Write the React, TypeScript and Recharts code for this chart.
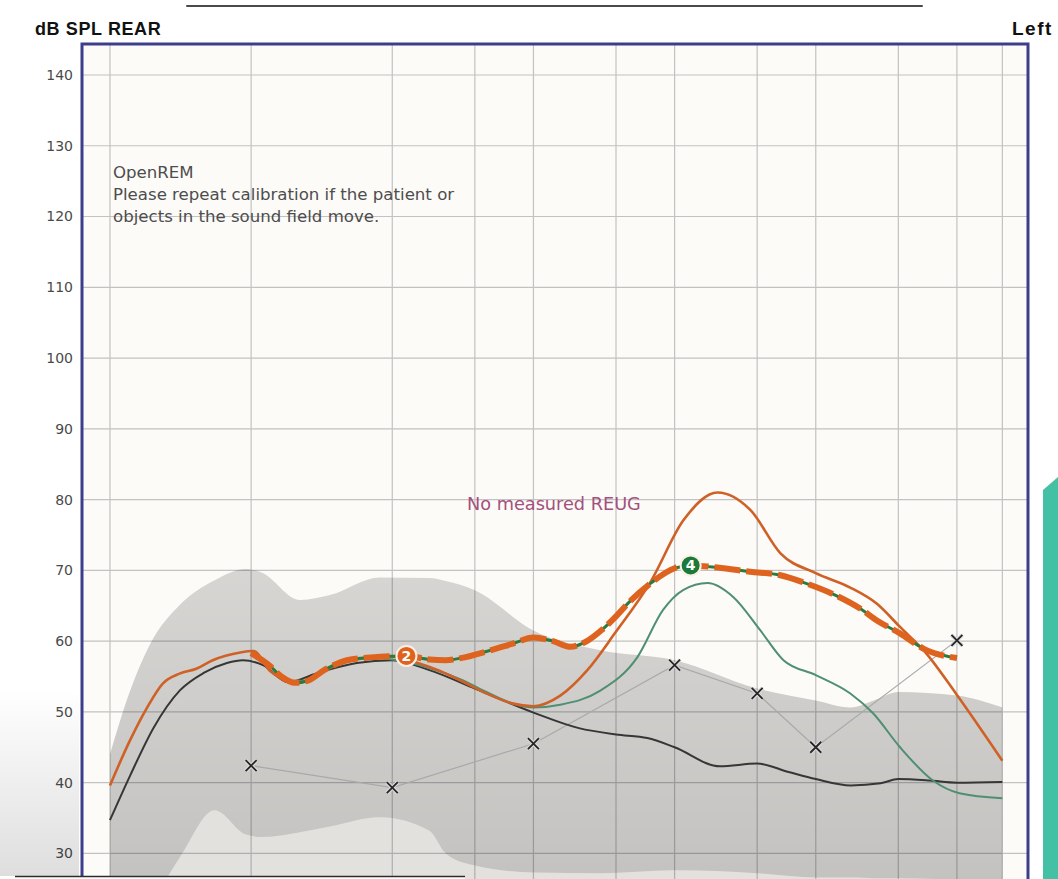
import React from "react";
import {
  ComposedChart,
  Area,
  Line,
  XAxis,
  YAxis,
  CartesianGrid,
  ReferenceArea,
} from "recharts";

// ---------- data (frequency in Hz, level in dB SPL) ----------
const gridFreqs = [125, 250, 500, 750, 1000, 1500, 2000, 3000, 4000, 6000, 8000, 10000];
const yTicks = [30, 40, 50, 60, 70, 80, 90, 100, 110, 120, 130, 140];

const bandFreq = [125, 138, 152, 176, 209, 243, 263, 318, 368, 470, 600, 650, 750, 1000, 1389, 2000, 3000, 4000, 4748, 5318, 6000, 8000, 10000];
const bandHigh = [44.0, 53.0, 59.5, 65.1, 68.6, 70.2, 69.7, 65.8, 66.5, 69.0, 68.9, 68.5, 67.2, 61.5, 58.7, 57.3, 53.3, 51.6, 50.6, 51.6, 52.8, 52.3, 50.6];
const bandLow = [18, 19, 22.6, 29.4, 36.1, 32.7, 32.3, 33.0, 33.8, 35.1, 33.2, 30.0, 28.3, 27.3, 27.2, 27.6, 27.2, 26.6, 26.6, 26.5, 26.5, 26.3, 26.2];
const floorLevel = 0;

const blackFreq = [125, 138, 155, 176, 198, 222, 240, 265, 300, 350, 420, 500, 600, 750, 1000, 1250, 1500, 1750, 2000, 2500, 3000, 3500, 4000, 4750, 5500, 6000, 7000, 8000, 10000];
const blackVal = [34.7, 41.0, 47.8, 53.0, 55.5, 56.9, 57.3, 56.6, 54.2, 55.6, 56.9, 57.3, 55.9, 53.3, 49.9, 47.7, 46.8, 46.3, 45.0, 42.3, 42.7, 41.5, 40.5, 39.6, 39.9, 40.5, 40.3, 40.0, 40.1];

const orangeFreq = [125, 138, 150, 162, 176, 191, 207, 237, 253, 274, 288, 302, 320, 350, 380, 420, 470, 500, 560, 630, 700, 800, 900, 1000, 1141, 1303, 1495, 1775, 2090, 2470, 2904, 3364, 4000, 4726, 5394, 6050, 6874, 7960, 10000];
const orangeVal = [39.6, 46.0, 50.6, 54.0, 55.4, 56.1, 57.3, 58.4, 58.6, 55.8, 54.8, 54.2, 54.2, 55.4, 56.6, 57.4, 57.8, 57.8, 57.0, 55.8, 54.4, 52.5, 51.2, 50.8, 52.3, 55.9, 61.2, 68.3, 77.1, 81.0, 78.5, 72.4, 69.6, 67.6, 65.3, 62.0, 58.3, 52.6, 43.1];

const greenFreq = [250, 274, 300, 330, 360, 400, 450, 500, 600, 700, 800, 900, 1000, 1141, 1389, 1665, 1890, 2085, 2352, 2670, 3048, 3414, 4000, 4740, 5300, 6050, 7111, 8100, 10000];
const greenVal = [58.3, 56.5, 54.4, 54.4, 56.0, 57.2, 57.6, 57.4, 56.2, 54.6, 52.7, 51.2, 50.6, 51.0, 53.0, 57.7, 64.4, 67.2, 68.2, 66.2, 61.5, 57.3, 55.2, 52.6, 49.8, 45.0, 40.3, 38.5, 37.8];

const targetFreq = [250, 274, 290, 310, 330, 360, 400, 450, 536, 600, 650, 700, 800, 900, 1000, 1100, 1200, 1300, 1400, 1500, 1600, 1780, 2000, 2164, 2470, 2900, 3364, 3760, 4400, 5000, 5400, 6050, 6800, 8000];
const targetVal = [58.3, 56.5, 55.0, 54.1, 54.4, 56.0, 57.3, 57.7, 57.9, 57.4, 57.3, 57.6, 58.6, 59.6, 60.5, 60.0, 59.2, 60.0, 61.6, 63.5, 65.5, 68.2, 70.3, 70.7, 70.4, 69.8, 69.3, 68.3, 66.5, 64.5, 62.9, 61.1, 58.9, 57.6];
const markFreq = [536, 2164];
const markLabel = ["2", "4"];

const xFreq = [250, 500, 1000, 2000, 3000, 4000, 8000];
const xVal = [42.4, 39.3, 45.5, 56.6, 52.6, 45.0, 60.1];

// ---------- derived tables ----------
const bandData = bandFreq.map((f, i) => ({
  f,
  band: [bandLow[i], bandHigh[i]],
  under: [floorLevel, bandLow[i]],
}));
const toSeries = (fs: number[], vs: number[]) => fs.map((f, i) => ({ f, v: vs[i] }));
const blackData = toSeries(blackFreq, blackVal);
const orangeData = toSeries(orangeFreq, orangeVal);
const greenData = toSeries(greenFreq, greenVal);
const targetData = targetFreq.map((f, i) => {
  const k = markFreq.indexOf(f);
  return { f, v: targetVal[i], mark: k >= 0 ? markLabel[k] : null };
});
const xData = toSeries(xFreq, xVal);

const X_DOMAIN: [number, number] = [108.96, 11342];
const Y_DOMAIN: [number, number] = [22, 144.38];

const markColors: Record<string, string> = { "2": "#e0621c", "4": "#1c7a38" };

const XDot = (p: any) => {
  const { cx, cy, index } = p;
  if (cx == null || cy == null) return <g key={`xd-${index}`} />;
  const s = 5.5;
  const d = `M${cx - s},${cy - s}L${cx + s},${cy + s}M${cx + s},${cy - s}L${cx - s},${cy + s}`;
  return (
    <g key={`xd-${index}`}>
      <path d={d} stroke="#dcdcdc" strokeWidth={4} />
      <path d={d} stroke="#262626" strokeWidth={1.8} />
    </g>
  );
};

const MarkDot = (p: any) => {
  const { cx, cy, index, payload } = p;
  if (!payload || !payload.mark || cx == null) return <g key={`md-${index}`} />;
  const c = markColors[payload.mark] || "#e0621c";
  return (
    <g key={`md-${index}`}>
      <circle cx={cx} cy={cy} r={10} fill={c} stroke="#fbefe6" strokeWidth={2} />
      <text
        x={cx}
        y={cy}
        dy="0.36em"
        textAnchor="middle"
        fill="#ffffff"
        fontFamily="DejaVu Sans, sans-serif"
        fontWeight="bold"
        fontSize={14}
      >
        {payload.mark}
      </text>
    </g>
  );
};

const EmptyTick = () => <g />;

export default function App() {
  return (
    <div
      style={{
        position: "absolute",
        left: 0,
        top: 0,
        width: 1058,
        height: 879,
        overflow: "hidden",
        background: "#ffffff",
      }}
    >
      <ComposedChart
        width={1058}
        height={920}
        data={bandData}
        margin={{ top: 44, right: 30, bottom: 10, left: 0 }}
      >
        <defs>
          <linearGradient id="bandGrad" x1="0" y1="0" x2="0" y2="1">
            <stop offset="0%" stopColor="#000" stopOpacity={0.15} />
            <stop offset="100%" stopColor="#000" stopOpacity={0.24} />
          </linearGradient>
        </defs>
        <CartesianGrid stroke="#c2c2c2" strokeWidth={1.2} fill="#fcfbf8" />
        <XAxis
          dataKey="f"
          type="number"
          scale="log"
          domain={X_DOMAIN}
          allowDataOverflow
          ticks={gridFreqs}
          interval={0}
          tick={EmptyTick}
          tickLine={false}
          axisLine={false}
          height={0}
        />
        <YAxis
          type="number"
          domain={Y_DOMAIN}
          allowDataOverflow
          ticks={yTicks}
          interval={0}
          width={82}
          tickLine={false}
          axisLine={false}
          tickSize={9}
          tickMargin={0}
          tick={{ fill: "#4a4a4a", fontSize: 14, fontFamily: "DejaVu Sans, sans-serif" }}
        />
        <Area
          dataKey="under"
          type="monotone"
          stroke="none"
          fill="#000"
          fillOpacity={0.1}
          isAnimationActive={false}
        />
        <Area
          dataKey="band"
          type="monotone"
          stroke="none"
          fill="url(#bandGrad)"
          fillOpacity={1}
          isAnimationActive={false}
        />
        <Line
          data={xData}
          dataKey="v"
          type="linear"
          stroke="#a9a9a9"
          strokeWidth={1.2}
          dot={XDot}
          activeDot={false}
          isAnimationActive={false}
        />
        <Line
          data={blackData}
          dataKey="v"
          type="monotone"
          stroke="#363636"
          strokeWidth={2}
          dot={false}
          activeDot={false}
          isAnimationActive={false}
        />
        <Line
          data={greenData}
          dataKey="v"
          type="monotone"
          stroke="#4f8f72"
          strokeWidth={2}
          dot={false}
          activeDot={false}
          isAnimationActive={false}
        />
        <Line
          data={orangeData}
          dataKey="v"
          type="monotone"
          stroke="#cf6126"
          strokeWidth={2.6}
          dot={false}
          activeDot={false}
          isAnimationActive={false}
        />
        <Line
          data={targetData}
          dataKey="v"
          type="monotone"
          stroke="#2e7a3e"
          strokeWidth={3}
          dot={false}
          activeDot={false}
          isAnimationActive={false}
        />
        <Line
          data={targetData}
          dataKey="v"
          type="monotone"
          stroke="#de631e"
          strokeWidth={6}
          strokeDasharray="26 6"
          dot={MarkDot}
          activeDot={false}
          isAnimationActive={false}
        />
        <ReferenceArea
          x1={X_DOMAIN[0]}
          x2={X_DOMAIN[1]}
          y1={Y_DOMAIN[0]}
          y2={Y_DOMAIN[1]}
          ifOverflow="visible"
          fill="none"
          fillOpacity={0}
          stroke="#3d3d8e"
          strokeWidth={3}
        />
      </ComposedChart>

      <svg
        width={1058}
        height={879}
        style={{ position: "absolute", left: 0, top: 0, pointerEvents: "none" }}
      >
        <text x={35} y={35} fontFamily="Liberation Sans, Arial, sans-serif" fontWeight="bold" fontSize={18} letterSpacing={0.6} fill="#111">
          dB SPL REAR
        </text>
        <text x={1012} y={35} fontFamily="Liberation Sans, Arial, sans-serif" fontWeight="bold" fontSize={19} letterSpacing={1.5} fill="#111">
          Left
        </text>
        <g fontFamily="DejaVu Sans, sans-serif" fontSize={16.6} fill="#4d4d4d">
          <text x={113} y={178}>OpenREM</text>
          <text x={113} y={200}>Please repeat calibration if the patient or</text>
          <text x={113} y={221.5}>objects in the sound field move.</text>
        </g>
        <text x={467} y={510} fontFamily="DejaVu Sans, sans-serif" fontSize={17.7} fill="#a3507c">
          No measured REUG
        </text>
        <defs>
          <linearGradient id="leftShade" x1="0" y1="0" x2="0" y2="1">
            <stop offset="0%" stopColor="#000" stopOpacity={0} />
            <stop offset="100%" stopColor="#000" stopOpacity={0.13} />
          </linearGradient>
        </defs>
        <rect x={0} y={690} width={79} height={186} fill="url(#leftShade)" />
        <line x1={187} y1={6} x2={922} y2={6} stroke="#4a4a4a" strokeWidth={2} strokeLinecap="round" />
        <rect x={15} y={876} width={450} height={4} fill="#ffffff" />
        <line x1={15} y1={876.5} x2={465} y2={876.5} stroke="#2c2c2c" strokeWidth={1.5} />
        <polygon points="1043,490 1058,477 1058,879 1043,879" fill="#44c1a4" />
      </svg>
    </div>
  );
}
